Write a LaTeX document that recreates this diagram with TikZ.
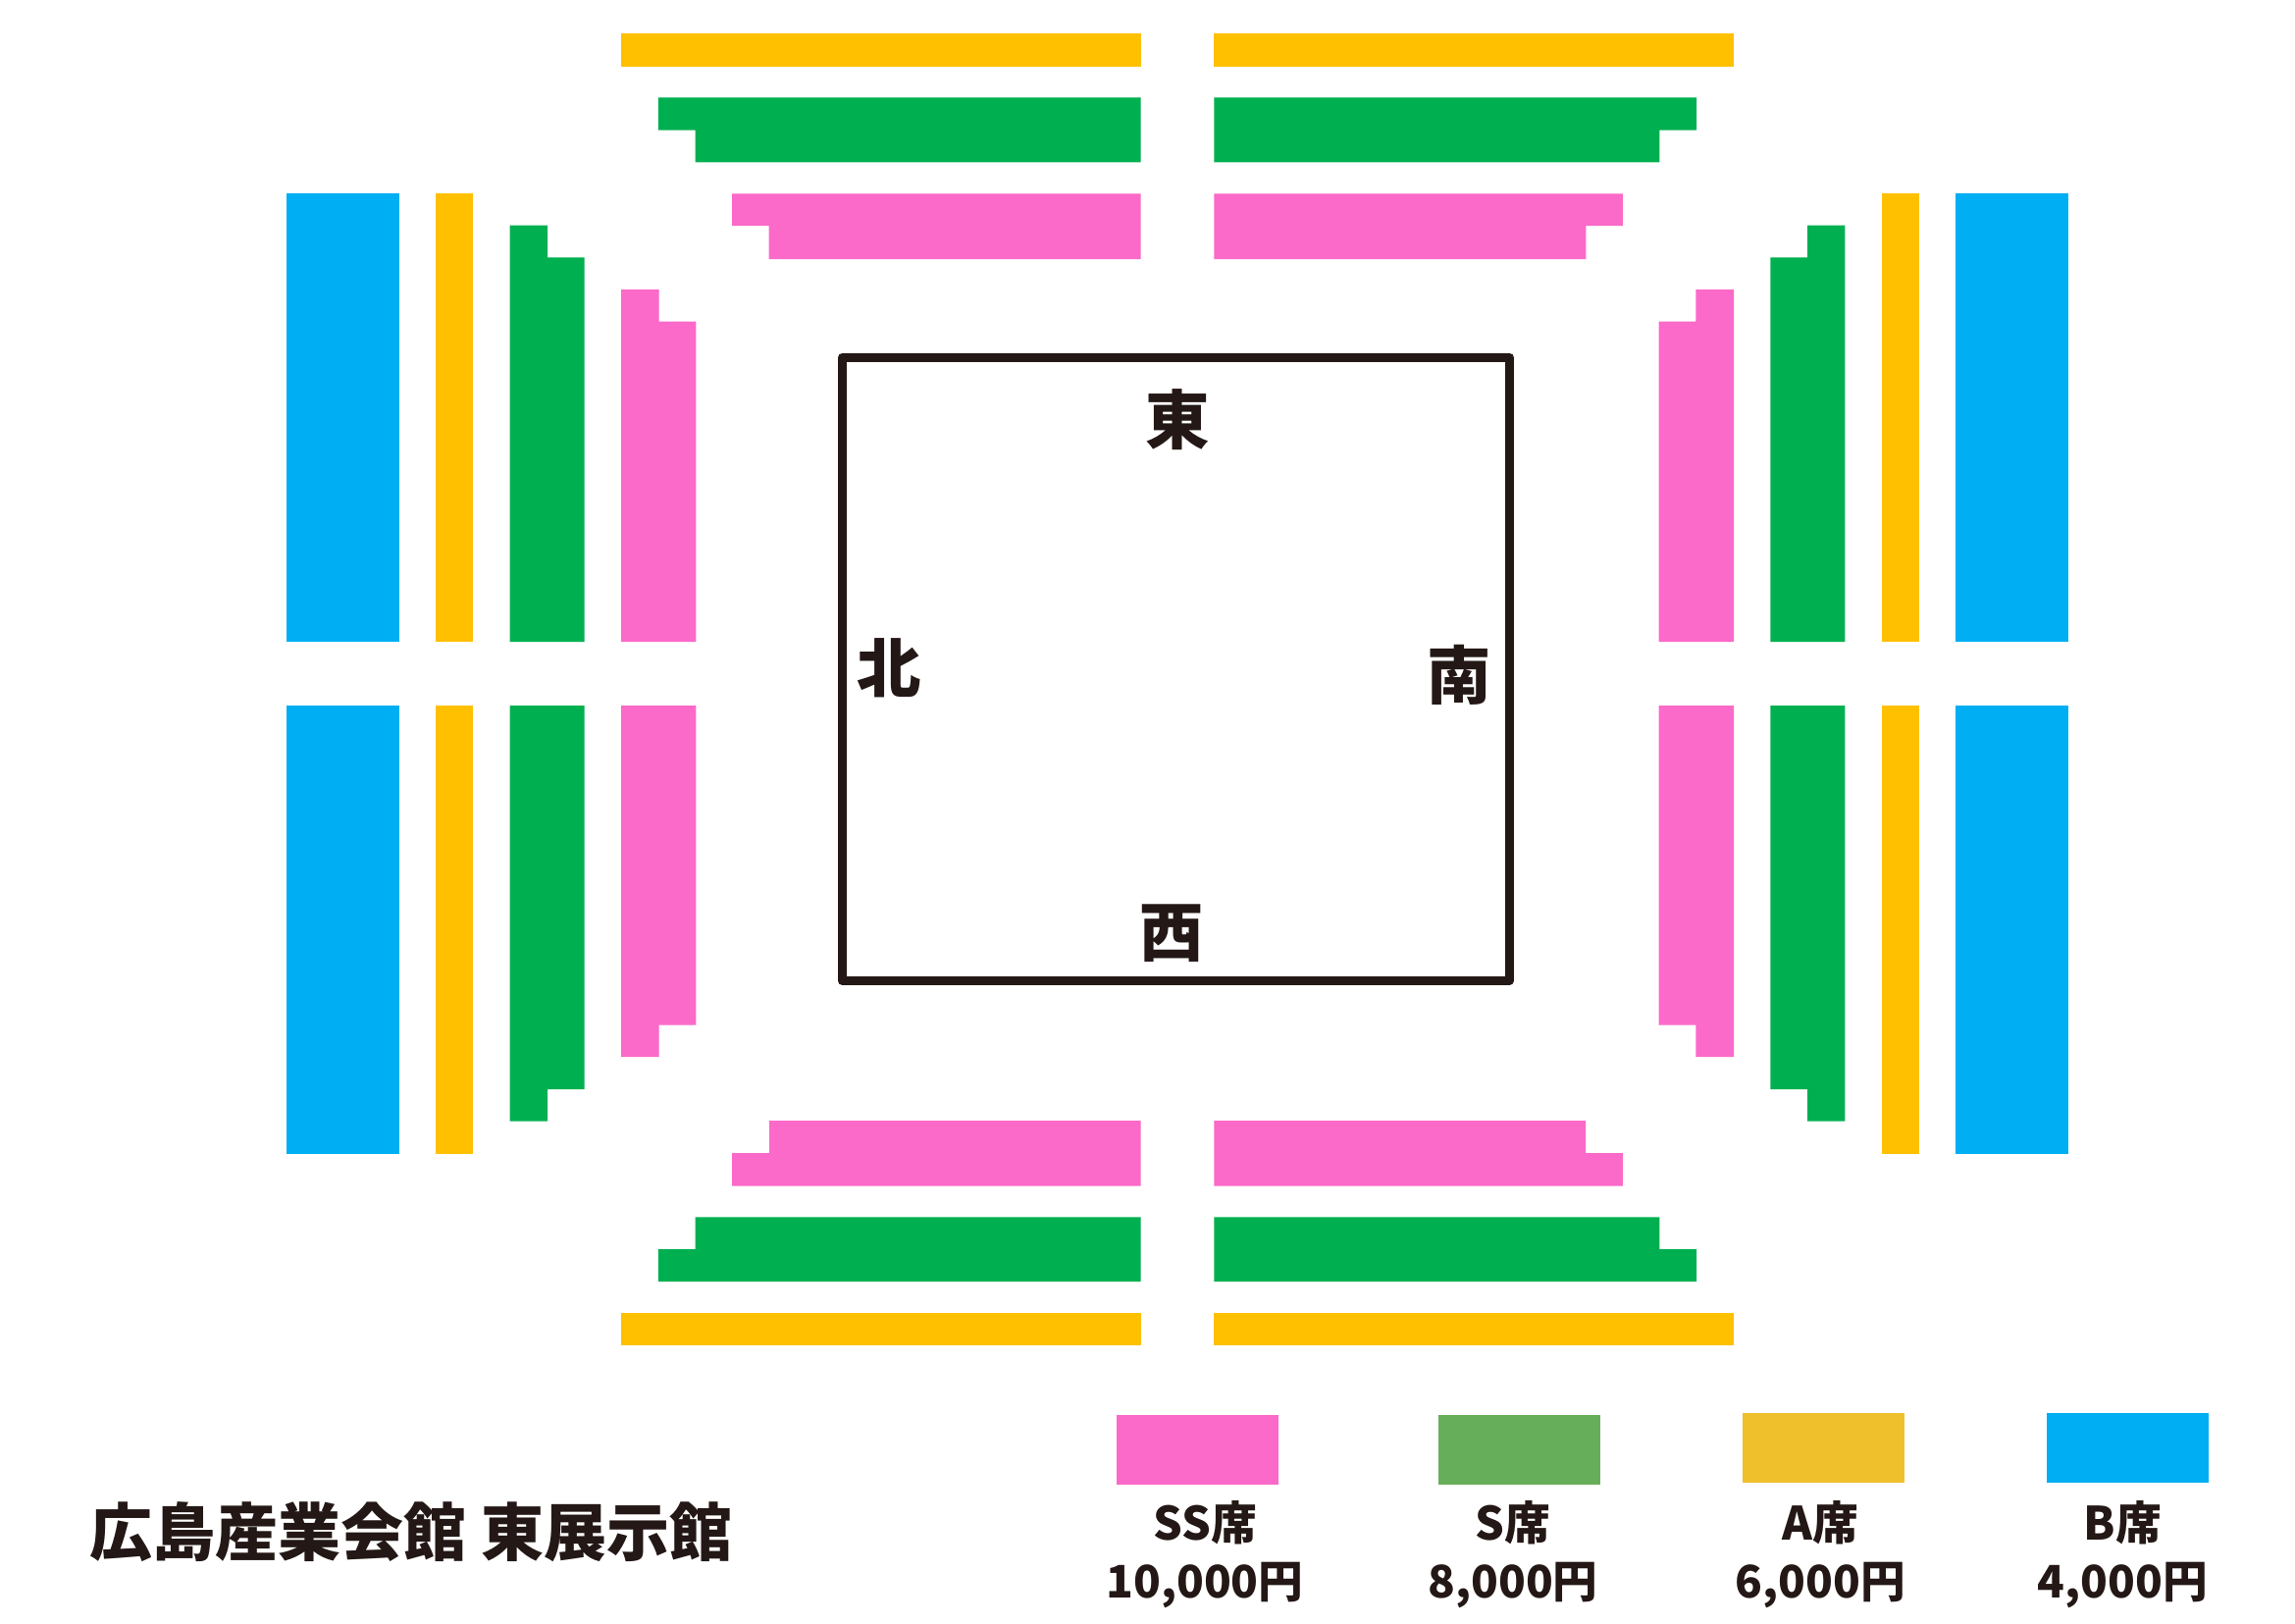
\documentclass[tikz,border=0pt]{standalone}
\usepackage{fontspec}
\setmainfont{Noto Sans CJK JP}
\usetikzlibrary{positioning}

\definecolor{inkc}{HTML}{231815}
\definecolor{ssc}{HTML}{FB69C9}
\definecolor{sc}{HTML}{00B050}
\definecolor{ac}{HTML}{FFC000}
\definecolor{bc}{HTML}{00AEF3}
\definecolor{skey}{HTML}{66AE5A}
\definecolor{akey}{HTML}{EFBF2C}

\tikzset{
	plainside/.style={},
	mirrorside/.style={shift={(2400,0)},xscale=-1},
	seatss/.style={fill=ssc},
	seats/.style={fill=sc},
	seata/.style={fill=ac},
	seatb/.style={fill=bc},
	dirlabel/.style={inner sep=0pt,text=inkc,font=\bfseries\fontsize{18.6pt}{18.6pt}\selectfont},
	titlelabel/.style={inner sep=0pt,text=inkc,font=\bfseries\fontsize{18.2pt}{18.2pt}\selectfont},
	keylabel/.style={inner sep=0pt,text=inkc,text height=11pt,text depth=2pt,font=\bfseries\fontsize{13.3pt}{13.3pt}\selectfont},
	pricelabel/.style={keylabel,font=\bfseries\fontsize{13pt}{13pt}\selectfont}
}

\begin{document}
\begin{tikzpicture}[x=0.01cm,y=-0.01cm,node distance=0.585cm]
\useasboundingbox (0,0) rectangle (2339,1654);

\foreach \side in {plainside,mirrorside} {
\begin{scope}[\side]
	% top rows
	\fill[seata] (633,34.3) rectangle (1162.7,67.7);
	\fill[seats] (670.8,99.3) -- (1162.7,99.3) -- (1162.7,165.3) -- (708.7,165.3) -- (708.7,132.7) -- (670.8,132.7) -- cycle;
	\fill[seatss] (746.2,197.3) -- (1162.7,197.3) -- (1162.7,264) -- (783.7,264) -- (783.7,230) -- (746.2,230) -- cycle;
	% bottom rows
	\fill[seatss] (784,1142) -- (1162.7,1142) -- (1162.7,1208.5) -- (746.2,1208.5) -- (746.2,1175) -- (784,1175) -- cycle;
	\fill[seats] (708.7,1240.3) -- (1162.7,1240.3) -- (1162.7,1306) -- (670.8,1306) -- (670.8,1273) -- (708.7,1273) -- cycle;
	\fill[seata] (633,1338) rectangle (1162.7,1371.3);
	% upper columns
	\fill[seatb] (292.3,197.3) rectangle (407,654);
	\fill[seata] (444,197.3) rectangle (482.3,654);
	\fill[seats] (519.7,229.5) -- (558,229.5) -- (558,262.3) -- (595.7,262.3) -- (595.7,654) -- (519.7,654) -- cycle;
	\fill[seatss] (633,295) -- (671.7,295) -- (671.7,327.5) -- (709.3,327.5) -- (709.3,654) -- (633,654) -- cycle;
	% lower columns
	\fill[seatb] (292.3,719) rectangle (407,1175.5);
	\fill[seata] (444,719) rectangle (482.3,1175.5);
	\fill[seats] (519.7,719) -- (595.7,719) -- (595.7,1110) -- (558,1110) -- (558,1142.6) -- (519.7,1142.6) -- cycle;
	\fill[seatss] (633,719) -- (709.3,719) -- (709.3,1044.5) -- (671.7,1044.5) -- (671.7,1077) -- (633,1077) -- cycle;
\end{scope}
}

% stage
\draw[inkc,line width=2.5pt,line join=round] (858.3,364.2) rectangle (1538.5,999.5);
\node[dirlabel] (east) at (1200.5,427.5) {東};
\node[dirlabel] (north) at (906,681) {北};
\node[dirlabel] (south) at (1487,688) {南};
\node[dirlabel] (west) at (1194.5,951) {西};

% key
\fill[seatss] (1138,1441.5) rectangle (1303,1512.5);
\fill[skey] (1466,1441.5) rectangle (1631,1512.5);
\fill[akey] (1776.4,1439.5) rectangle (1941,1510.5);
\fill[seatb] (2086,1439.5) rectangle (2251,1510.5);

\node[keylabel] (ss) at (1228,1554) {SS席};
\node[pricelabel] (ssprice) [below of=ss] {10,000円};
\node[keylabel] (s) at (1542,1554) {S席};
\node[pricelabel] (sprice) [below of=s] {8,000円};
\node[keylabel] (a) at (1855.5,1554) {A席};
\node[pricelabel] (aprice) [below of=a] {6,000円};
\node[keylabel] (b) at (2163.5,1554) {B席};
\node[pricelabel] (bprice) [below of=b] {4,000円};

\node[titlelabel] (title) at (419,1561.5) {広島産業会館 東展示館};
\end{tikzpicture}
\end{document}
